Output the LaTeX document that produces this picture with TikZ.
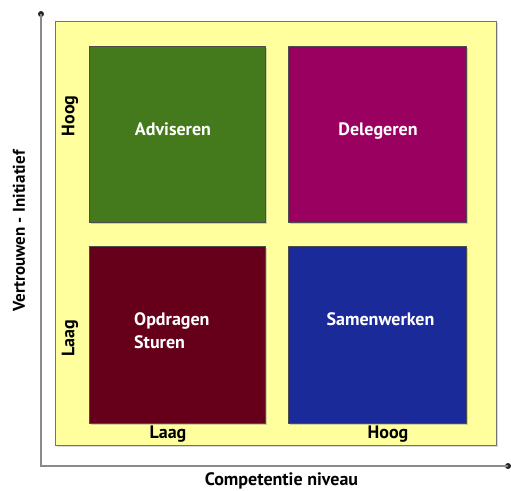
\documentclass[tikz,border=0pt]{standalone}
\usepackage{fontspec}
\setmainfont{PT Sans}
\usetikzlibrary{shadows}
\definecolor{panelyellow}{HTML}{FFFF9E}
\definecolor{cgreen}{HTML}{457A1C}
\definecolor{cmagenta}{HTML}{990060}
\definecolor{cred}{HTML}{66001A}
\definecolor{cblue}{HTML}{1A2B99}
\definecolor{axisgrey}{HTML}{8A8A8A}
\tikzset{
  quad/.style={draw=black!70, line width=0.8pt, minimum width=176pt, minimum height=176pt,
    inner sep=0pt, anchor=north west,
    drop shadow={shadow xshift=1.5pt, shadow yshift=-1.5pt, opacity=0.35}},
  quadtext/.style={text=white, font=\bfseries\fontsize{18}{23}\selectfont, inner sep=0pt},
  axislabel/.style={font=\bfseries\fontsize{18}{20}\selectfont, text=black, inner sep=0pt},
  axistitle/.style={font=\bfseries\fontsize{17}{20}\selectfont, text=black, inner sep=0pt},
  axisline/.style={draw=axisgrey, line width=2.5pt},
  dotend/.style={circle, fill=black!85, inner sep=0pt, minimum size=6pt}
}
\begin{document}
\begin{tikzpicture}[x=1pt, y=-1pt]
  \useasboundingbox (0,0) rectangle (511,490);
  % axes
  \node[dotend] (ytop) at (41,14) {};
  \node[dotend] (xend) at (508,466) {};
  \coordinate (origin) at (41,466);
  \draw[axisline] (ytop.center) -- (origin) -- (xend.center);
  % background panel
  \node[draw=black!55, line width=0.8pt, fill=panelyellow, minimum width=441pt, minimum height=424pt,
        inner sep=0pt, anchor=north west,
        drop shadow={shadow xshift=1.5pt, shadow yshift=-1.5pt, opacity=0.3}] (panel) at (55,21) {};
  % quadrants
  \node[quad, fill=cgreen] (advise) at (89,46) {};
  \node[quad, fill=cmagenta, minimum width=178pt] (delegate) at (288,46) {};
  \node[quad, fill=cred, minimum height=177pt] (direct) at (89,246) {};
  \node[quad, fill=cblue, minimum width=178pt, minimum height=177pt] (collab) at (288,246) {};
  % quadrant captions (baselines placed explicitly)
  \node[quadtext, anchor=base] (advisetxt) at (173,135) {Adviseren};
  \node[quadtext, anchor=base] (delegatetxt) at (378,135) {Delegeren};
  \node[quadtext, anchor=base] (collabtxt) at (380.5,325) {Samenwerken};
  \node[quadtext, anchor=base west] (directtxt) at (134,325) {Opdragen};
  \node[quadtext, anchor=base west] (directtxt2) at (134,348) {Sturen};
  % scale labels
  \node[axislabel, rotate=90] (yhigh) at (70,116) {Hoog};
  \node[axislabel, rotate=90] (ylow) at (70,338) {Laag};
  \node[axislabel, anchor=base] (xlow) at (168,438) {Laag};
  \node[axislabel, anchor=base] (xhigh) at (388,438) {Hoog};
  % axis titles
  \node[axistitle, rotate=90] (ytitle) at (19,231) {Vertrouwen - Initiatief};
  \node[axislabel, anchor=base] (xtitle) at (281.5,485) {Competentie niveau};
\end{tikzpicture}
\end{document}
